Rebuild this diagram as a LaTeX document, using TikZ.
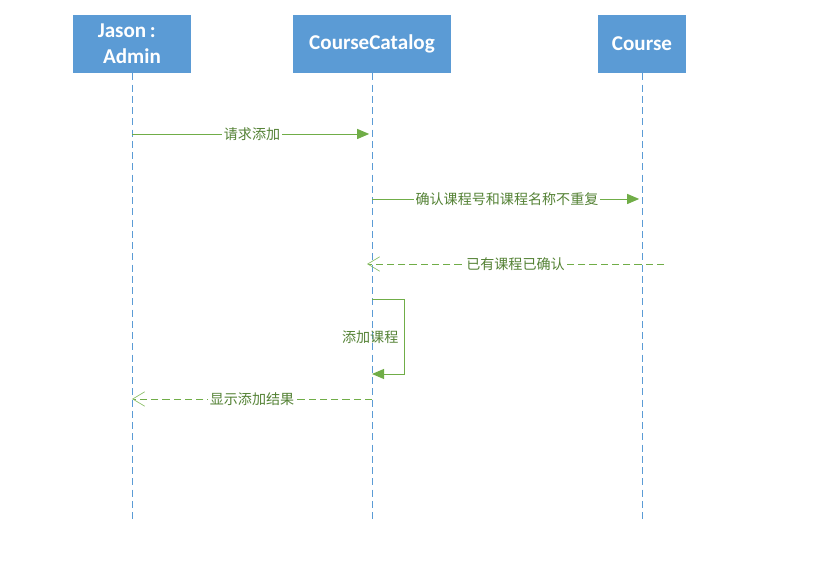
\documentclass[tikz,border=0pt]{standalone}
\usepackage{fontspec}
\usepackage{tikz}
\usetikzlibrary{positioning,arrows.meta,calc}
\setmainfont{Carlito}
\newfontfamily\cjk{Noto Sans CJK SC}
\definecolor{lane}{HTML}{5B9BD5}
\definecolor{msg}{HTML}{70AD47}
\definecolor{msgtxt}{HTML}{548235}
\definecolor{reply}{HTML}{8CBF6A}

\begin{document}
\begin{tikzpicture}[x=0.025cm, y=-0.025cm,
    actor/.style={draw=none, fill=lane, text=white, font=\fontsize{15}{18.5}\selectfont\bfseries,
                  align=center, minimum height=1.45cm, inner sep=0pt},
    life/.style={draw=lane, line width=0.6pt, dash pattern=on 5pt off 3pt},
    call/.style={draw=msg, line width=0.7pt, shorten >=2pt, -{Triangle[length=3mm, width=2.5mm]}},
    ret/.style={draw=msg, line width=0.7pt, dash pattern=on 5pt off 3pt,
                -{Straight Barb[length=3mm, width=3.6mm, line width=0.5pt, reply]}},
    lbl/.style={font=\cjk\fontsize{10}{12}\selectfont, text=msgtxt, fill=white, inner sep=1pt},
  ]
    \useasboundingbox (0,0) rectangle (822,570);

    % participants
    \node[actor, minimum width=2.95cm] (admin) at (132,44) {Jason\,:\hspace*{0.5em}\\Admin};
    \node[actor, minimum width=3.95cm] (catalog) at (372,44) {CourseCatalog};
    \node[actor, minimum width=2.22cm] (course) at (642,44) {Course};

    % lifelines
    \coordinate (adminEnd) at (132,522);
    \coordinate (catalogEnd) at (372,522);
    \coordinate (courseEnd) at (642,522);
    \draw[life] (admin.south) -- (adminEnd);
    \draw[life] (catalog.south) -- (catalogEnd);
    \draw[life] (course.south) -- (courseEnd);

    % message anchors on the lifelines
    \coordinate (a1) at (132,134);
    \coordinate (c1) at (372,134);
    \coordinate (c2) at (372,199);
    \coordinate (k2) at (642,199);
    \coordinate (k3) at (664,264);
    \coordinate (c3) at (367,264);
    \coordinate (c4) at (372,299);
    \coordinate (c4b) at (372,374);
    \coordinate (c5) at (372,399);
    \coordinate (a5) at (132,399);

    % messages
    \draw[call] (a1) -- node[lbl] {请求添加} (c1);
    \draw[call] (c2) -- node[lbl] {确认课程号和课程名称不重复} (k2);
    \draw[ret] (k3) -- node[lbl] {已有课程已确认} (c3);
    \draw[call, shorten >=0pt] (c4) -- (404,299) -- (404,374) -- (c4b);
    \node[lbl, fill=none, anchor=east] (selfmsg) at (400,337) {添加课程};
    \draw[ret] (c5) -- node[lbl] {显示添加结果} (a5);
  \end{tikzpicture}
\end{document}
